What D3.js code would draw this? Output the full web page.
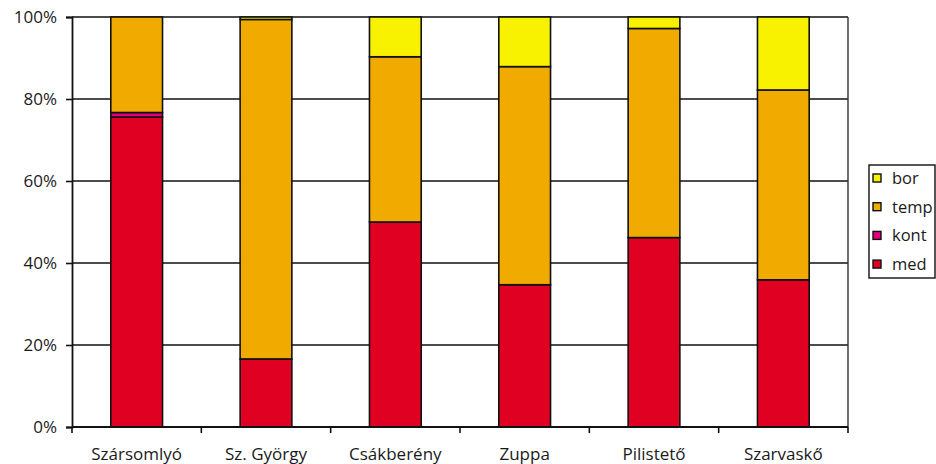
<!DOCTYPE html>
<html>
<head>
<meta charset="utf-8">
<script src="https://cdn.jsdelivr.net/npm/d3@7"></script>
<style>
  html, body { margin: 0; padding: 0; background: #fff; }
  svg { display: block; }
  text { font-family: "Open Sans", "Noto Sans", sans-serif; font-weight: 400; fill: #1a1a1a; }
</style>
</head>
<body>
<svg id="chart" width="936" height="464"></svg>
<script>
// Sites along the x axis
const sites = ["Szársomlyó", "Sz. György", "Csákberény", "Zuppa", "Pilistető", "Szarvaskő"];
// Share (%) of each element group per site
const med  = [75.6, 16.6, 50.0, 34.7, 46.2, 35.9];
const kont = [1.1, 0.0, 0.0, 0.0, 0.0, 0.0];
const temp = [23.3, 82.8, 40.3, 53.2, 51.0, 46.3];
const bor  = [0.0, 0.6, 9.7, 12.1, 2.8, 17.8];
const seriesNames = ["med", "kont", "temp", "bor"];
const seriesColors = ["#E00022", "#E0007A", "#F0AA00", "#F8F200"];
const yTicks = [0, 20, 40, 60, 80, 100];

const rows = sites.map((s, i) => ({ site: s, med: med[i], kont: kont[i], temp: temp[i], bor: bor[i] }));
const stacked = d3.stack().keys(seriesNames)(rows);

const svg = d3.select("#chart");
const plotLeft = 72, plotRight = 848, plotTop = 17, plotBottom = 427;

const x = d3.scaleBand().domain(sites).range([plotLeft, plotRight]).paddingInner(0.6).paddingOuter(0.3);
const xBand = d3.scaleBand().domain(sites).range([plotLeft, plotRight]);
const y = d3.scaleLinear().domain([0, 100]).range([plotBottom, plotTop]);
const color = d3.scaleOrdinal().domain(seriesNames).range(seriesColors);

// Horizontal gridlines
svg.append("g").selectAll("line").data(yTicks.filter(t => t > 0)).join("line")
  .attr("x1", plotLeft).attr("x2", plotRight)
  .attr("y1", d => y(d)).attr("y2", d => y(d))
  .attr("stroke", "#111").attr("stroke-width", 1.6);

// Right border of the plot area
svg.append("line").attr("x1", plotRight).attr("x2", plotRight).attr("y1", plotTop).attr("y2", plotBottom)
  .attr("stroke", "#333").attr("stroke-width", 1.4);

// Stacked bars
svg.append("g").selectAll("g").data(stacked).join("g")
  .attr("fill", d => color(d.key))
  .selectAll("rect").data(d => d.filter(v => v[1] - v[0] > 0)).join("rect")
  .attr("x", d => x(d.data.site))
  .attr("width", x.bandwidth())
  .attr("y", d => y(d[1]))
  .attr("height", d => y(d[0]) - y(d[1]))
  .attr("stroke", "#111").attr("stroke-width", 1.6);

// Y axis
const yAxis = svg.append("g").attr("transform", `translate(${plotLeft},0)`)
  .call(d3.axisLeft(y).tickValues(yTicks).tickFormat(d => d + "%").tickSize(6).tickPadding(9));
yAxis.select(".domain").attr("stroke", "#111").attr("stroke-width", 1.8);
yAxis.selectAll(".tick line").attr("stroke", "#111").attr("stroke-width", 1.6);
yAxis.selectAll("text").style("font-size", "17px").attr("fill", "#1a1a1a");

// X axis with ticks at band boundaries
const xAxis = svg.append("g").attr("transform", `translate(0,${plotBottom})`);
xAxis.append("line").attr("x1", plotLeft).attr("x2", plotRight).attr("stroke", "#111").attr("stroke-width", 1.8);
const bounds = sites.map(s => xBand(s)).concat([plotRight]);
xAxis.selectAll("line.tk").data(bounds).join("line").attr("class", "tk")
  .attr("x1", d => d).attr("x2", d => d).attr("y1", 0).attr("y2", 6)
  .attr("stroke", "#111").attr("stroke-width", 1.6);
xAxis.selectAll("text").data(sites).join("text")
  .attr("x", d => xBand(d) + xBand.bandwidth() / 2)
  .attr("y", 33)
  .attr("text-anchor", "middle")
  .style("font-size", "17px")
  .text(d => d);

// Legend
const lg = svg.append("g").attr("transform", "translate(869,165)");
lg.append("rect").attr("x", 0).attr("y", 0).attr("width", 66).attr("height", 113)
  .attr("fill", "#fff").attr("stroke", "#111").attr("stroke-width", 1.4);
const legendOrder = seriesNames.slice().reverse();
const item = lg.selectAll("g.item").data(legendOrder).join("g").attr("class", "item")
  .attr("transform", (d, i) => `translate(4,${13 + i * 28.7})`);
item.append("rect").attr("x", 0).attr("y", -4).attr("width", 8).attr("height", 8)
  .attr("fill", d => color(d)).attr("stroke", "#111").attr("stroke-width", 1.4);
item.append("text").attr("x", 19).attr("y", 6).style("font-size", "16.5px").text(d => d);
</script>
</body>
</html>
